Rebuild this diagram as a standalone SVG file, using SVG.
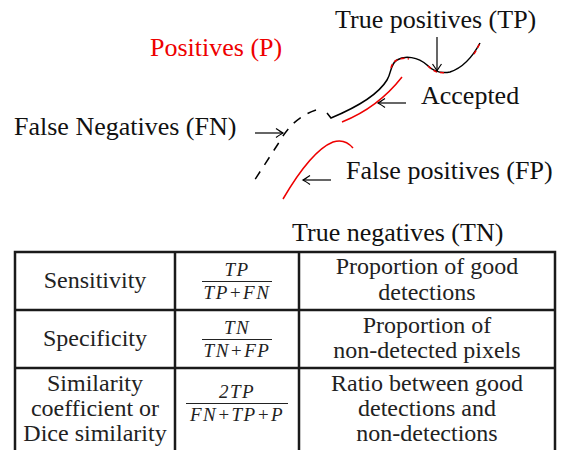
<svg xmlns="http://www.w3.org/2000/svg" width="561" height="450" viewBox="0 0 561 450">
<style>
text{font-family:'Liberation Serif','Times New Roman','DejaVu Serif',serif}
.t{font-size:26px;fill:#111}
.c{font-size:24px;fill:#222;text-anchor:middle}
.m{font-size:19px;font-style:italic;fill:#222;text-anchor:middle;letter-spacing:1.5px}
.k{fill:none;stroke:#000;stroke-width:1.5}
.r{fill:none;stroke:#e00;stroke-width:1.5}
.a{fill:none;stroke:#000;stroke-width:1.2}
.g{fill:none;stroke:#1a1a1a;stroke-width:2.5}
.f{stroke:#222;stroke-width:1.2}
</style>
<defs>
<marker id="ah" markerWidth="12" markerHeight="12" refX="0" refY="0" viewBox="-8 -6 10 12" orient="auto" markerUnits="userSpaceOnUse">
<path d="M-7,-4.5 Q-2,-1 0,0 Q-2,1 -7,4.5" fill="none" stroke="#000" stroke-width="1.2"/>
</marker>
</defs>
<g id="labels">
<text class="t" x="335" y="28">True positives (TP)</text>
<text class="t" x="150" y="56" style="fill:#e00">Positives (P)</text>
<text class="t" x="421" y="104">Accepted</text>
<text class="t" x="14" y="135">False Negatives (FN)</text>
<text class="t" x="346" y="179">False positives (FP)</text>
<text class="t" x="292" y="241">True negatives (TN)</text>
</g>
<g id="curves">
<path class="k" d="M327,113 L331,118 C355,108 378,95 387,80 C392,72 390,64 397,60 C405,55 418,57 427,65 C433,71 440,74 450,72 C462,68 472,58 480,43"/>
<path class="r" d="M391,68 C392,64 394,61 398,59.5 C402,58 406,58 409,59" stroke-dasharray="4 3"/>
<path class="r" d="M428,66 C433,71 438,73.5 446,72.5" stroke-dasharray="4 3"/>
<path class="r" d="M474,54 C476,51 478,47 480,43" stroke-dasharray="4 3"/>
<path class="k" d="M316,110 C298,116 287,128 278,144 L254,181" stroke-dasharray="9 8"/>
<path class="r" d="M342,122 C362,114 384,100 402,77"/>
<path class="r" d="M283,199 C300,170 318,148 333,142 C342,139 348,142 353,148"/>
</g>
<g id="connectors">
<path class="a" d="M406,103 L378,103" marker-end="url(#ah)"/>
<path class="a" d="M331,180 L303,180" marker-end="url(#ah)"/>
<path class="a" d="M255,133 L283,133" marker-end="url(#ah)"/>
<path class="a" d="M437,37 L437,71" marker-end="url(#ah)"/>
</g>
<g id="table">
<path class="g" d="M15,460 V252 H555 V460 M175,252 V460 M299,252 V460 M15,310 H555 M15,368 H555"/>
<text class="c" x="95" y="288">Sensitivity</text>
<text class="c" x="95" y="346">Specificity</text>
<text class="c" x="95" y="391">Similarity</text>
<text class="c" x="95" y="416">coefficient or</text>
<text class="c" x="95" y="441">Dice similarity</text>
<text class="c" x="427" y="274">Proportion of good</text>
<text class="c" x="427" y="300">detections</text>
<text class="c" x="427" y="333">Proportion of</text>
<text class="c" x="427" y="358">non-detected pixels</text>
<text class="c" x="427" y="391">Ratio between good</text>
<text class="c" x="427" y="416">detections and</text>
<text class="c" x="427" y="441">non-detections</text>
<text class="m" x="237" y="276">TP</text>
<line class="f" x1="202" y1="281.5" x2="272" y2="281.5"/>
<text class="m" x="237" y="299">TP+FN</text>
<text class="m" x="237" y="334">TN</text>
<line class="f" x1="202" y1="339.5" x2="272" y2="339.5"/>
<text class="m" x="237" y="357">TN+FP</text>
<text class="m" x="237" y="398">2TP</text>
<line class="f" x1="186" y1="403.5" x2="288" y2="403.5"/>
<text class="m" x="237" y="421">FN+TP+P</text>
</g>
</svg>
